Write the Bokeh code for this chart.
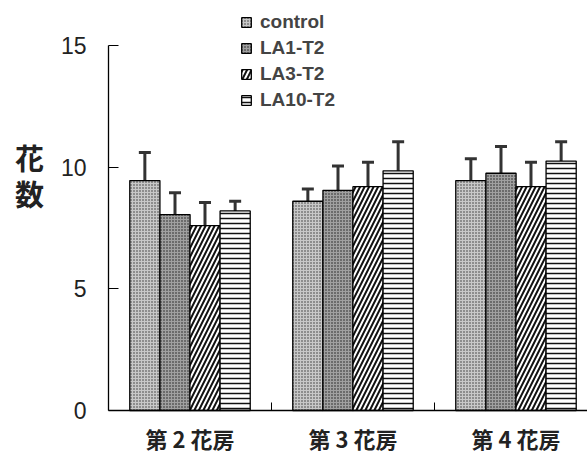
from bokeh.plotting import figure
from bokeh.models import (ColumnDataSource, Range1d, FixedTicker, Legend, LegendItem,
                          Whisker, TeeHead, Label, LinearAxis)
from bokeh.embed import file_html
from bokeh.resources import INLINE
import numpy as np

# ---- data ----
groups = ["第 2 花房", "第 3 花房", "第 4 花房"]
series = ["control", "LA1-T2", "LA3-T2", "LA10-T2"]
control = [9.45, 8.6, 9.45]
control_err = [1.15, 0.5, 0.9]
la1 = [8.05, 9.05, 9.75]
la1_err = [0.9, 1.0, 1.1]
la3 = [7.6, 9.2, 9.2]
la3_err = [0.95, 1.0, 1.0]
la10 = [8.2, 9.85, 10.25]
la10_err = [0.4, 1.2, 0.8]
y_ticks = [0, 5, 10, 15]
y_label = ["花", "数"]

values = [control, la1, la3, la10]
errors = [control_err, la1_err, la3_err, la10_err]

p = figure(width=587, height=460, output_backend="svg", toolbar_location=None,
           x_range=Range1d(-0.6626, 2.9387), y_range=Range1d(-2.055, 16.85),
           x_axis_location=None, y_axis_location=None,
           min_border_left=0, min_border_top=0, min_border_bottom=0, min_border_right=0)
p.outline_line_color = None
p.grid.visible = False
p.background_fill_color = "white"
p.border_fill_color = "white"

centers = np.arange(len(groups)) + 0.5
offsets = [-0.277, -0.092, 0.092, 0.277]
bw = 0.185

styles = [
    dict(fill_color="#c8c8c8", hatch_pattern="dot", hatch_color="#333333", hatch_scale=3, hatch_weight=1),
    dict(fill_color="#a0a0a0", hatch_pattern="dot", hatch_color="#1a1a1a", hatch_scale=3, hatch_weight=1.2),
    dict(fill_color="white", hatch_pattern="right_diagonal_line", hatch_color="#111111", hatch_scale=9, hatch_weight=2),
    dict(fill_color="white", hatch_pattern="horizontal_line", hatch_color="#111111", hatch_scale=5, hatch_weight=1.5),
]

items = []
for name, vals, errs, off, st in zip(series, values, errors, offsets, styles):
    v = np.array(vals)
    e = np.array(errs)
    src = ColumnDataSource(dict(x=centers + off, top=v, lo=v - e, hi=v + e))
    r = p.vbar(x="x", top="top", width=bw, source=src, line_color="black", line_width=1.3, **st)
    items.append(LegendItem(label=name, renderers=[r]))
    w = Whisker(base="x", lower="lo", upper="hi", source=src, line_color="#333333", line_width=3,
                upper_head=TeeHead(size=12, line_color="#333333", line_width=3), lower_head=None)
    p.add_layout(w)

legend = Legend(items=items, location=(240, 349), padding=0, margin=0, border_line_color=None,
                background_fill_alpha=0, label_text_font="Liberation Sans", label_text_font_style="bold",
                label_text_font_size="19px", glyph_width=12, glyph_height=12, label_standoff=8,
                spacing=4, label_height=21)
p.add_layout(legend, "center")

# y axis (fixed at x = 0)
yax = LinearAxis(fixed_location=0, bounds=(0, 15), ticker=FixedTicker(ticks=y_ticks))
yax.major_tick_in = 10
yax.major_tick_out = 0
yax.minor_tick_line_color = None
yax.axis_line_width = 1.3
yax.major_label_standoff = 22
yax.major_label_text_font = "Liberation Sans"
yax.major_label_text_font_size = "23px"
yax.major_label_text_color = "#222222"
p.add_layout(yax, "left")

# x axis (fixed at y = 0)
xax = LinearAxis(fixed_location=0, bounds=(0, 2.9387),
                 ticker=FixedTicker(ticks=list(centers), minor_ticks=[1, 2]))
xax.major_label_overrides = {float(c): g for c, g in zip(centers, groups)}
xax.major_tick_in = 0
xax.major_tick_out = 0
xax.minor_tick_in = 8
xax.minor_tick_out = 0
xax.axis_line_width = 1.3
xax.major_label_standoff = 12
xax.major_label_text_font = "Noto Sans CJK JP"
xax.major_label_text_font_style = "bold"
xax.major_label_text_font_size = "22px"
xax.major_label_text_color = "#222222"
p.add_layout(xax, "below")

for ch, yy in zip(y_label, [10.4, 8.95]):
    p.add_layout(Label(x=-0.485, y=yy, text=ch,
                       text_font="Noto Sans CJK JP", text_font_style="bold", text_font_size="29px",
                       text_align="center", text_baseline="middle", text_color="#222222"))

open("out.html", "w").write(file_html(p, INLINE))
